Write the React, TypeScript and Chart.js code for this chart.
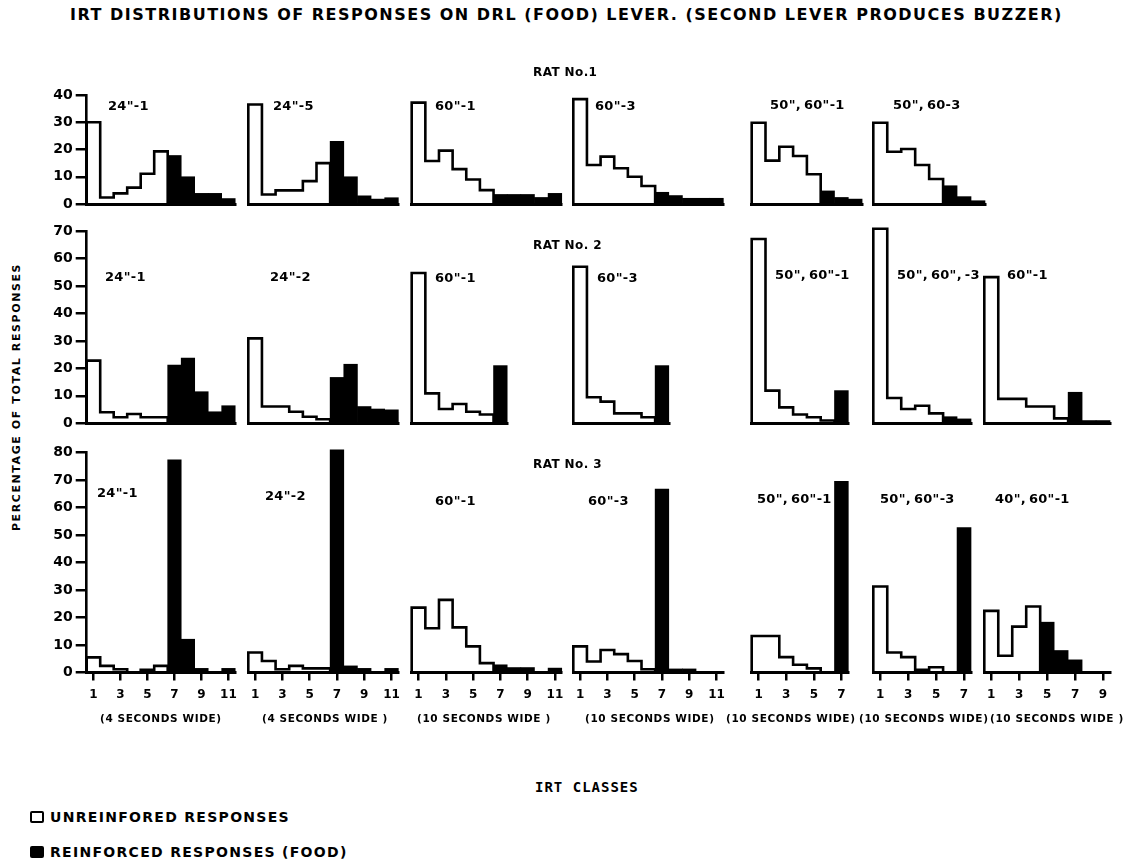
import React, { useEffect, useRef } from 'react';
import { Chart, registerables } from 'chart.js';
Chart.register(...registerables);

// ---------- DATA (percentage of total responses per IRT class) ----------
// Rat No. 1
const rat1_24s_1 = [30, 2.4, 3.9, 6, 11.1, 19.3, 17.8, 10, 3.9, 3.9, 2];
const rat1_24s_5 = [36.5, 3.5, 5, 5, 8.4, 15, 23, 10, 3, 1.8, 2.3];
const rat1_60s_1 = [37.2, 15.8, 19.6, 12.8, 9.0, 5.1, 3.5, 3.5, 3.5, 2.4, 3.9];
const rat1_60s_3 = [38.5, 14.3, 17.4, 13.1, 10, 6.6, 4.3, 3.1, 2.1, 2.1, 2.1];
const rat1_50_60s_1 = [29.8, 15.9, 21, 17.6, 10.9, 4.8, 2.4, 1.8];
const rat1_50_60s_3 = [29.8, 19.2, 20.2, 14.3, 9.2, 6.7, 2.7, 1.2];
// Rat No. 2
const rat2_24s_1 = [22.8, 4.0, 2.2, 3.4, 2.2, 2.2, 21.2, 23.7, 11.5, 4.2, 6.4];
const rat2_24s_2 = [30.9, 6.1, 6.1, 4.2, 2.4, 1.5, 16.7, 21.5, 6.1, 5.2, 4.9];
const rat2_60s_1 = [54.7, 10.9, 5.2, 7.0, 4.2, 3.2, 21.0];
const rat2_60s_3 = [57, 9.5, 7.9, 3.6, 3.6, 2.2, 21];
const rat2_50_60s_1 = [67.1, 11.9, 5.8, 3.2, 2.2, 1.0, 11.9];
const rat2_50_60s_3 = [70.8, 9.2, 5.2, 6.4, 3.6, 2.4, 1.6];
const rat2_60s_1b = [53.2, 8.9, 8.9, 6.1, 6.1, 1.8, 11.3, 1, 1];
// Rat No. 3
const rat3_24s_1 = [5.5, 2.4, 1.2, 0, 1, 2.4, 77.3, 12.1, 1.5, 0, 1.5];
const rat3_24s_2 = [7.3, 4.2, 1.2, 2.4, 1.5, 1.5, 81, 2.4, 1.5, 0, 1.5];
const rat3_60s_1 = [23.6, 16.1, 26.4, 16.4, 9.5, 3.4, 2.8, 1.8, 1.8, 0, 1.6];
const rat3_60s_3 = [9.5, 4, 8.2, 6.7, 4.2, 1.2, 66.7, 1.3, 1.3, 0, 0];
const rat3_50_60s_1 = [13.3, 13.3, 5.6, 2.8, 1.5, 0, 69.5];
const rat3_50_60s_3 = [31.3, 7.3, 5.6, 1, 1.9, 0, 52.7];
const rat3_40_60s_1 = [22.4, 6.1, 16.7, 24, 18.3, 8, 4.6, 0, 0];

// first IRT class that is reinforced (black)
const rat1FirstFood = [7, 7, 7, 7, 6, 6];
const rat2FirstFood = [7, 7, 7, 7, 7, 6, 7];
const rat3FirstFood = [7, 7, 7, 7, 7, 7, 5];

const TS = '\u2009';
const rat1Labels = ['24"-1', '24"-5', '60"-1', '60"-3', `50",${TS}60"-1`, `50",${TS}60-3`];
const rat2Labels = ['24"-1', '24"-2', '60"-1', '60"-3', `50",${TS}60"-1`, `50",${TS}60",${TS}-3`, '60"-1'];
const rat3Labels = ['24"-1', '24"-2', '60"-1', '60"-3', `50",${TS}60"-1`, `50",${TS}60"-3`, `40",${TS}60"-1`];

const ratTitles = ['RAT No.1', 'RAT No. 2', 'RAT No. 3'];
const rowMax = [40, 70, 80];
const yStep = 10;

const xTicks11 = [1, 3, 5, 7, 9, 11];
const xTicks7 = [1, 3, 5, 7];
const xTicks9 = [1, 3, 5, 7, 9];
const bottomTicks = [xTicks11, xTicks11, xTicks11, xTicks11, xTicks7, xTicks7, xTicks9];
const widthLabels = ['(4 SECONDS WIDE)', '(4 SECONDS WIDE )', '(10 SECONDS WIDE )', '(10 SECONDS WIDE)', '(10 SECONDS WIDE)', '(10 SECONDS WIDE)', '(10 SECONDS WIDE )'];

const rows = [
  { values: [rat1_24s_1, rat1_24s_5, rat1_60s_1, rat1_60s_3, rat1_50_60s_1, rat1_50_60s_3], first: rat1FirstFood, labels: rat1Labels },
  { values: [rat2_24s_1, rat2_24s_2, rat2_60s_1, rat2_60s_3, rat2_50_60s_1, rat2_50_60s_3, rat2_60s_1b], first: rat2FirstFood, labels: rat2Labels },
  { values: [rat3_24s_1, rat3_24s_2, rat3_60s_1, rat3_60s_3, rat3_50_60s_1, rat3_50_60s_3, rat3_40_60s_1], first: rat3FirstFood, labels: rat3Labels },
];

// ---------- LAYOUT ----------
const colLeft = [86.7, 248.3, 411.7, 573.3, 751.7, 873.3, 984.3];
const colUnit = [13.5, 13.64, 13.64, 13.64, 13.8, 13.96, 13.97];
const rowBase = [204, 423.3, 672.5];
const rowPxPerUnit = [2.725, 2.747, 2.75];
const labelPos = [
  [[108, 105], [273, 105], [435, 105], [595, 105], [770, 104], [893, 104]],
  [[105, 276], [270, 276], [435, 277], [597, 277], [775, 274], [897, 274], [1007, 274]],
  [[97, 492], [265, 495], [435, 500], [588, 500], [757, 498], [880, 498], [995, 498]],
];
const ratTitleY = [72, 245, 464];
const widthLabelLeft = [100, 262, 417, 585, 726, 859, 990];

const FONT = '"DejaVu Sans", "Liberation Sans", sans-serif';

type PanelProps = {
  values: number[];
  firstFood: number;
  max: number;
  showY: boolean;
  xTicks: number[] | null;
  areaL: number;
  areaT: number;
  areaW: number;
  areaH: number;
};

function Panel(p: PanelProps) {
  const ref = useRef<HTMLCanvasElement>(null);
  const axisW = p.showY ? 52 : 0;
  const axisH = p.xTicks ? 34 : 0;
  const padL0 = p.showY ? 0 : 6;
  const padT0 = 14;
  const padR0 = 12;
  const padB0 = 12;
  const divLeft = Math.floor(p.areaL - axisW - padL0);
  const padL = p.areaL - axisW - divLeft;
  const divTop = Math.floor(p.areaT - padT0);
  const padT = p.areaT - divTop;
  const divW = Math.ceil(padL + axisW + p.areaW + padR0);
  const padR = divW - padL - axisW - p.areaW;
  const divH = Math.ceil(padT + p.areaH + axisH + padB0);
  const padB = divH - padT - p.areaH - axisH;

  useEffect(() => {
    const n = p.values.length;
    const open = p.values.slice(0, p.firstFood - 1);
    const outline = [{ x: 0.5, y: 0 }, ...open.map((v, i) => ({ x: i + 0.5, y: v })), { x: open.length + 0.5, y: 0 }];
    const food = p.values.map((v, i) => ({ x: i + 1, y: i + 1 >= p.firstFood ? v : null }));
    const allTicks = p.values.map((_, i) => i + 1);
    const tickValues = p.xTicks ? p.xTicks : allTicks;
    const chart = new Chart(ref.current as HTMLCanvasElement, {
      type: 'bar',
      data: {
        datasets: [
          {
            type: 'line',
            data: outline,
            borderColor: '#000',
            borderWidth: 2.6,
            pointRadius: 0,
            stepped: true,
            fill: false,
            order: 1,
            clip: false,
            borderJoinStyle: 'miter',
          } as any,
          {
            type: 'bar',
            data: food,
            backgroundColor: '#000',
            borderWidth: 0,
            categoryPercentage: 1,
            barPercentage: 1,
            order: 0,
            clip: false,
          } as any,
        ],
      },
      options: {
        animation: false,
        responsive: true,
        maintainAspectRatio: false,
        events: [],
        layout: { padding: { left: padL, right: padR, top: padT, bottom: padB } },
        plugins: { legend: { display: false }, tooltip: { enabled: false } },
        scales: {
          x: {
            type: 'linear',
            min: 0.5,
            max: n + 0.5,
            offset: false,
            afterBuildTicks: (s: any) => {
              s.ticks = tickValues.map((v) => ({ value: v }));
            },
            afterFit: (s: any) => {
              s.height = axisH;
            },
            ticks: {
              display: !!p.xTicks,
              autoSkip: false,
              maxRotation: 0,
              color: '#000',
              padding: 7,
              font: { family: FONT, weight: 'bold', size: 12 },
            },
            grid: {
              display: !!p.xTicks,
              drawOnChartArea: false,
              drawTicks: true,
              tickLength: 8,
              lineWidth: 2.5,
              color: '#000',
              offset: false,
            },
            border: { display: true, width: 3, color: '#000' },
          } as any,
          y: {
            display: p.showY,
            min: 0,
            max: p.max,
            ...(p.showY
              ? {
                  afterFit: (s: any) => {
                    s.width = axisW;
                  },
                }
              : {}),
            ticks: {
              stepSize: yStep,
              color: '#000',
              padding: 3,
              font: { family: FONT, weight: 'bold', size: 14 },
            },
            grid: {
              display: true,
              drawOnChartArea: false,
              drawTicks: true,
              tickLength: 11,
              lineWidth: 2.5,
              color: '#000',
            },
            border: { display: true, width: 2.6, color: '#000' },
          } as any,
        },
      },
    });
    return () => chart.destroy();
  }, []);

  return (
    <div style={{ position: 'absolute', left: divLeft, top: divTop, width: divW, height: divH }}>
      <canvas ref={ref} />
    </div>
  );
}

const txt = (extra: React.CSSProperties): React.CSSProperties => ({
  position: 'absolute',
  fontFamily: FONT,
  fontWeight: 'bold',
  color: '#000',
  whiteSpace: 'nowrap',
  lineHeight: 1,
  transform: 'translateY(-50%)',
  ...extra,
});

export default function App() {
  const panels: React.ReactNode[] = [];
  const texts: React.ReactNode[] = [];
  rows.forEach((row, r) => {
    const max = rowMax[r];
    const ppu = rowPxPerUnit[r];
    row.values.forEach((vals, c) => {
      const areaH = max * ppu;
      panels.push(
        <Panel
          key={`p${r}-${c}`}
          values={vals}
          firstFood={row.first[c]}
          max={max}
          showY={c === 0}
          xTicks={r === 2 ? bottomTicks[c] : null}
          areaL={colLeft[c]}
          areaT={rowBase[r] - areaH}
          areaW={vals.length * colUnit[c]}
          areaH={areaH}
        />
      );
      const [lx, ly] = labelPos[r][c];
      texts.push(
        <div key={`l${r}-${c}`} style={txt({ left: lx, top: ly, fontSize: 13, letterSpacing: 0.3 })}>
          {row.labels[c]}
        </div>
      );
    });
    texts.push(
      <div key={`rt${r}`} style={txt({ left: 533, top: ratTitleY[r], fontSize: 12, letterSpacing: 0.4 })}>
        {ratTitles[r]}
      </div>
    );
  });
  widthLabels.forEach((w, c) => {
    texts.push(
      <div key={`w${c}`} style={txt({ left: widthLabelLeft[c], top: 718, fontSize: 10.5, letterSpacing: 0.6 })}>
        {w}
      </div>
    );
  });

  return (
    <div style={{ position: 'absolute', left: 0, top: 0, width: 1131, height: 860, background: '#fff', overflow: 'hidden' }}>
      {panels}
      {texts}
      <div style={txt({ left: 70, top: 15, fontSize: 16, letterSpacing: 1.5 })}>
        IRT DISTRIBUTIONS OF RESPONSES ON DRL (FOOD) LEVER. (SECOND LEVER PRODUCES BUZZER)
      </div>
      <div
        style={{
          position: 'absolute',
          left: 16,
          top: 397,
          transform: 'translate(-50%, -50%) rotate(-90deg)',
          fontFamily: FONT,
          fontWeight: 'bold',
          fontSize: 11,
          letterSpacing: 1.6,
          whiteSpace: 'nowrap',
          lineHeight: 1,
        }}
      >
        PERCENTAGE OF TOTAL RESPONSES
      </div>
      <div style={txt({ left: 535, top: 787, fontSize: 14, letterSpacing: 1, fontFamily: '"DejaVu Sans Mono", monospace' })}>
        IRT CLASSES
      </div>
      <div style={{ position: 'absolute', left: 30, top: 811, width: 10, height: 8, border: '2px solid #000', borderRadius: 2, background: '#fff' }} />
      <div style={txt({ left: 50, top: 817, fontSize: 14, letterSpacing: 1.3 })}>UNREINFORED RESPONSES</div>
      <div style={{ position: 'absolute', left: 30, top: 846, width: 14, height: 12, borderRadius: 2, background: '#000' }} />
      <div style={txt({ left: 50, top: 852, fontSize: 14, letterSpacing: 1.3 })}>REINFORCED RESPONSES (FOOD)</div>
    </div>
  );
}
